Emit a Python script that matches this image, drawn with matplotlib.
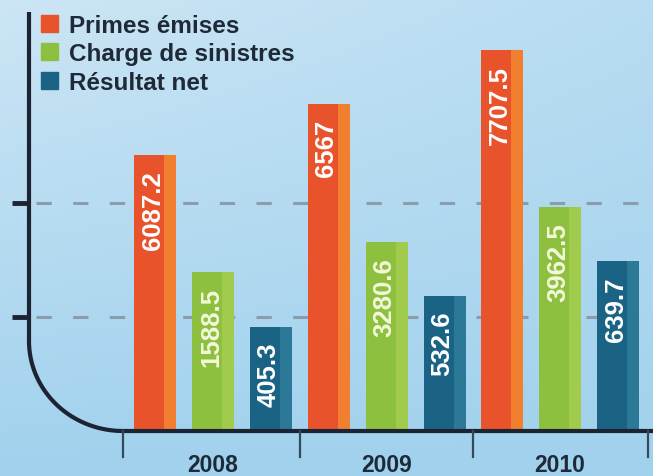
import matplotlib
matplotlib.use('Agg')
import matplotlib.pyplot as plt
import numpy as np
from matplotlib.patches import Patch

plt.rcParams['font.family'] = ['Liberation Sans', 'DejaVu Sans']

# data
years = ['2008', '2009', '2010']
series = ['Primes émises', 'Charge de sinistres', 'Résultat net']
primes = [6087.2, 6567, 7707.5]
sinistres = [1588.5, 3280.6, 3962.5]
resultat = [405.3, 532.6, 639.7]
# the drawn bars are not to scale: heights as drawn (pixels above baseline)
h_primes = [276, 327, 381]
h_sinistres = [159, 189, 224]
h_resultat = [104, 135, 170]
grid_levels = [114, 228]

colors = ['#E8532B', '#8DC03F', '#1A6384']
light = ['#F27F30', '#A0CB4C', '#2C7997']
label_colors = ['white', '#F4F8DC', 'white']

W, H = 653, 477
fig = plt.figure(figsize=(W / 100, H / 100), dpi=100)
ax = fig.add_axes([0, 0, 1, 1])
x0, gw = 213, 173.5  # pixel of first group centre, pixels per group
ax.set_xlim(-x0 / gw, (W - x0) / gw)
ax.set_ylim(-45, 432)
ax.axis('off')

# background gradient
gx, gy = np.meshgrid(np.linspace(0, 1, 200), np.linspace(0, 1, 200))
bg = 0.55 * gy + 0.45 * (1 - gx) * gy
c_top = np.array([0.80, 0.90, 0.96])
c_bot = np.array([0.63, 0.82, 0.93])
img = c_bot + (c_top - c_bot) * bg[..., None]
ax.imshow(img, extent=[*ax.get_xlim(), -45, 432], origin='lower',
          aspect='auto', zorder=0)

xl = ax.get_xlim()
ax_x = (29 - x0) / gw  # vertical axis line position
tick0 = (123 - x0) / gw

# dashed grid lines
for g in grid_levels:
    ax.plot([ax_x + 0.04, xl[1]], [g, g], color='#8B9DAD', lw=2.2,
            dashes=(5, 7), zorder=1)
    ax.plot([ax_x - 0.1, ax_x], [g, g], color='#1C2433', lw=3.5,
            solid_capstyle='butt', zorder=3)

# bars
x = np.arange(len(years))
bw = 42 / gw
off = 58 / gw
vals = [primes, sinistres, resultat]
hts = [h_primes, h_sinistres, h_resultat]
for i in range(3):
    xs = x + (i - 1) * off
    ax.bar(xs, hts[i], width=bw, color=colors[i], zorder=2)
    ax.bar(xs + bw * 0.36, hts[i], width=bw * 0.28, color=light[i], zorder=2)
    for xx, hh, v in zip(xs, hts[i], vals[i]):
        ax.text(xx - 0.012, hh - 15, f'{v:g}', rotation=90, ha='center',
                va='top', color=label_colors[i], fontsize=18.5,
                fontweight='bold', zorder=4)

# curved axis line
rx, ry = tick0 - ax_x, 90
t = np.linspace(np.pi, 1.5 * np.pi, 60)
cx = tick0 + rx * np.cos(t)
cy = ry + ry * np.sin(t)
px = np.concatenate([[ax_x], cx, [xl[1]]])
py = np.concatenate([[419], cy, [0]])
ax.plot(px, py, color='#1C2433', lw=3.0, zorder=3, solid_capstyle='butt')

# category ticks and labels
ticks = [tick0, 0.5, 1.5, (648 - x0) / gw]
for b in ticks:
    ax.plot([b, b], [0, -26], color='#34495C', lw=1.6, zorder=3)
for xx, yr in zip(x, years):
    ax.text(xx, -34, yr, ha='center', va='center', fontsize=16.5,
            fontweight='bold', color='#1E2A38')

handles = [Patch(color=c) for c in colors]
leg = ax.legend(handles, series, loc='upper left',
                bbox_to_anchor=(41 / W, 1 - 15 / H), frameon=False,
                handlelength=0.7, handleheight=0.7, handletextpad=0.45,
                labelspacing=0.22, borderpad=0, borderaxespad=0,
                prop={'size': 17.5, 'weight': 'bold'})
for t in leg.get_texts():
    t.set_color('#1E2A38')

fig.savefig('out.png', dpi=100)
